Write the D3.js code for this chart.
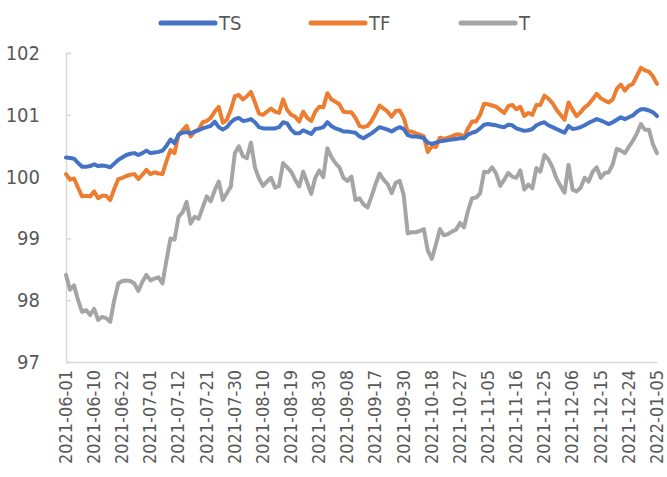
<!DOCTYPE html>
<html><head><meta charset="utf-8">
<script src="https://cdn.jsdelivr.net/npm/d3@7"></script>
<style>
html,body{margin:0;padding:0;background:#fff;}
svg{display:block;}
text{font-family:"DejaVu Sans Condensed","Liberation Sans Narrow",sans-serif;fill:#595959;}
</style></head>
<body>
<svg id="chart" width="667" height="477"></svg>
<script>
const dates = [
"2021-06-01","2021-06-02","2021-06-03","2021-06-04","2021-06-07","2021-06-08","2021-06-09","2021-06-10","2021-06-11","2021-06-15",
"2021-06-16","2021-06-17","2021-06-18","2021-06-21","2021-06-22","2021-06-23","2021-06-24","2021-06-25","2021-06-28","2021-06-29",
"2021-06-30","2021-07-01","2021-07-02","2021-07-05","2021-07-06","2021-07-07","2021-07-08","2021-07-09","2021-07-12","2021-07-13",
"2021-07-14","2021-07-15","2021-07-16","2021-07-19","2021-07-20","2021-07-21","2021-07-22","2021-07-23","2021-07-26","2021-07-27",
"2021-07-28","2021-07-29","2021-07-30","2021-08-02","2021-08-03","2021-08-04","2021-08-05","2021-08-06","2021-08-09","2021-08-10",
"2021-08-11","2021-08-12","2021-08-13","2021-08-16","2021-08-17","2021-08-18","2021-08-19","2021-08-20","2021-08-23","2021-08-24",
"2021-08-25","2021-08-26","2021-08-27","2021-08-30","2021-08-31","2021-09-01","2021-09-02","2021-09-03","2021-09-06","2021-09-07",
"2021-09-08","2021-09-09","2021-09-10","2021-09-13","2021-09-14","2021-09-15","2021-09-16","2021-09-17","2021-09-22","2021-09-23",
"2021-09-24","2021-09-27","2021-09-28","2021-09-29","2021-09-30","2021-10-08","2021-10-11","2021-10-12","2021-10-13","2021-10-14",
"2021-10-15","2021-10-18","2021-10-19","2021-10-20","2021-10-21","2021-10-22","2021-10-25","2021-10-26","2021-10-27","2021-10-28",
"2021-10-29","2021-11-01","2021-11-02","2021-11-03","2021-11-04","2021-11-05","2021-11-08","2021-11-09","2021-11-10","2021-11-11",
"2021-11-12","2021-11-15","2021-11-16","2021-11-17","2021-11-18","2021-11-19","2021-11-22","2021-11-23","2021-11-24","2021-11-25",
"2021-11-26","2021-11-29","2021-11-30","2021-12-01","2021-12-02","2021-12-03","2021-12-06","2021-12-07","2021-12-08","2021-12-09",
"2021-12-10","2021-12-13","2021-12-14","2021-12-15","2021-12-16","2021-12-17","2021-12-20","2021-12-21","2021-12-22","2021-12-23",
"2021-12-24","2021-12-27","2021-12-28","2021-12-29","2021-12-30","2021-12-31","2022-01-04","2022-01-05"
];
const tickDates = ["2021-06-01","2021-06-10","2021-06-22","2021-07-01","2021-07-12","2021-07-21","2021-07-30","2021-08-10","2021-08-19","2021-08-30","2021-09-08","2021-09-17","2021-09-30","2021-10-18","2021-10-27","2021-11-05","2021-11-16","2021-11-25","2021-12-06","2021-12-15","2021-12-24","2022-01-05"];
const yTicks = [97, 98, 99, 100, 101, 102];
const seriesNames = ["TS", "TF", "T"];

const TS = [
100.31,100.30,100.29,100.22,100.16,100.16,100.17,100.20,100.17,100.18,
100.17,100.15,100.21,100.27,100.31,100.35,100.37,100.38,100.35,100.38,
100.42,100.38,100.39,100.40,100.42,100.50,100.60,100.54,100.68,100.71,
100.72,100.70,100.73,100.75,100.78,100.80,100.82,100.89,100.80,100.76,
100.80,100.88,100.93,100.95,100.90,100.91,100.93,100.88,100.80,100.78,
100.78,100.78,100.78,100.80,100.88,100.86,100.76,100.70,100.70,100.75,
100.72,100.69,100.77,100.78,100.80,100.88,100.82,100.78,100.76,100.73,
100.73,100.72,100.71,100.65,100.62,100.66,100.70,100.75,100.80,100.78,
100.76,100.73,100.77,100.80,100.77,100.67,100.65,100.65,100.64,100.62,
100.55,100.53,100.55,100.57,100.58,100.59,100.60,100.61,100.62,100.62,
100.68,100.71,100.73,100.78,100.84,100.85,100.84,100.83,100.81,100.80,
100.84,100.83,100.78,100.76,100.74,100.75,100.77,100.83,100.86,100.88,
100.83,100.80,100.77,100.74,100.71,100.82,100.77,100.78,100.80,100.83,
100.87,100.90,100.93,100.91,100.88,100.85,100.88,100.92,100.96,100.93,
100.96,100.99,101.05,101.09,101.09,101.07,101.04,100.98
];
const TF = [
100.04,99.95,99.97,99.82,99.68,99.69,99.68,99.76,99.65,99.69,
99.69,99.62,99.80,99.96,99.98,100.01,100.03,100.04,99.96,100.03,
100.11,100.04,100.07,100.05,100.04,100.25,100.43,100.38,100.68,100.75,
100.82,100.65,100.73,100.76,100.88,100.90,100.95,101.05,101.13,100.87,
100.92,101.08,101.30,101.32,101.25,101.30,101.37,101.20,101.02,101.00,
101.05,101.10,101.05,101.03,101.25,101.08,101.00,100.97,100.89,101.05,
100.95,100.90,101.05,101.13,101.12,101.35,101.25,101.21,101.17,101.05,
101.04,101.04,100.95,100.82,100.80,100.82,100.90,101.02,101.15,101.10,
101.05,100.97,101.06,101.07,100.95,100.73,100.73,100.70,100.68,100.65,
100.40,100.49,100.48,100.63,100.61,100.63,100.65,100.68,100.68,100.64,
100.78,100.89,100.89,101.00,101.18,101.17,101.15,101.13,101.08,101.03,
101.14,101.16,101.09,101.13,100.98,101.03,101.00,101.16,101.16,101.31,
101.26,101.19,101.08,101.00,100.92,101.20,101.08,100.98,101.04,101.12,
101.17,101.25,101.34,101.27,101.23,101.20,101.25,101.42,101.49,101.39,
101.47,101.50,101.63,101.76,101.72,101.70,101.62,101.50
];
const T = [
98.41,98.17,98.24,98.00,97.81,97.84,97.76,97.86,97.68,97.73,
97.71,97.65,98.00,98.27,98.31,98.32,98.31,98.27,98.15,98.30,
98.41,98.32,98.35,98.37,98.27,98.65,99.00,98.98,99.35,99.42,
99.59,99.24,99.35,99.32,99.50,99.68,99.60,99.78,99.92,99.62,
99.73,99.84,100.38,100.49,100.33,100.30,100.55,100.15,99.97,99.85,
99.92,99.98,99.82,99.85,100.22,100.15,100.08,99.95,99.84,100.08,
99.90,99.72,99.98,100.10,99.99,100.46,100.32,100.22,100.15,99.98,
99.93,100.00,99.62,99.65,99.55,99.50,99.68,99.88,100.05,99.95,
99.88,99.73,99.90,99.93,99.70,99.08,99.10,99.10,99.12,99.15,
98.80,98.67,98.90,99.15,99.05,99.07,99.11,99.14,99.25,99.18,
99.45,99.65,99.66,99.73,100.08,100.07,100.15,100.05,99.85,99.95,
100.06,100.00,99.98,100.10,99.79,99.87,99.81,100.14,100.08,100.35,
100.28,100.15,99.97,99.85,99.74,100.19,99.79,99.76,99.82,99.98,
99.92,100.08,100.15,99.98,100.06,100.07,100.20,100.45,100.42,100.38,
100.48,100.58,100.70,100.85,100.76,100.76,100.52,100.38
];
const colors = ["#4472C4", "#ED7D31", "#A5A5A5"];

const svg = d3.select("#chart");
const mLeft = 66, mRight = 657, mTop = 53, mBottom = 362;
const x = d3.scalePoint().domain(dates).range([mLeft, mRight]);
const y = d3.scaleLinear().domain([97, 102]).range([mBottom, mTop]);

// y axis
const yAxis = svg.append("g").attr("transform", `translate(${mLeft},0)`)
  .call(d3.axisRight(y).tickValues(yTicks).tickSize(5).tickFormat(""));
yAxis.selectAll("line").attr("stroke", "#d9d9d9").attr("stroke-width", 1.5);
yAxis.select(".domain").attr("stroke", "#d9d9d9").attr("stroke-width", 1.5);
svg.append("g").selectAll("text").data(yTicks).join("text")
  .attr("x", 40).attr("y", d => y(d)).attr("dy", "0.35em")
  .attr("text-anchor", "end").attr("font-size", 20).text(d => d);

// x axis
const xAxis = svg.append("g").attr("transform", `translate(0,${mBottom})`)
  .call(d3.axisBottom(x).tickValues(tickDates).tickSize(0).tickPadding(0));
xAxis.select(".domain").attr("stroke", "#d9d9d9").attr("stroke-width", 1.5);
xAxis.selectAll("text")
  .attr("font-size", 18)
  .attr("transform", "translate(0,8) rotate(-90)")
  .attr("text-anchor", "end").attr("dy", "0.3em").attr("x", 0).attr("y", 0)
  .style("font-family", '"DejaVu Sans Condensed","Liberation Sans Narrow",sans-serif')
  .attr("fill", "#595959");

// lines
const data = [TS, TF, T];
const line = d3.line().x((d, i) => x(dates[i])).y(d => y(d));
[2, 1, 0].forEach(k => {
  svg.append("path").datum(data[k]).attr("d", line)
    .attr("fill", "none").attr("stroke", colors[k]).attr("stroke-width", 4)
    .attr("stroke-linejoin", "round").attr("stroke-linecap", "round");
});

// legend
const legX = [161, 311, 461];
const lg = svg.append("g");
seriesNames.forEach((n, k) => {
  lg.append("line").attr("x1", legX[k]).attr("x2", legX[k] + 54).attr("y1", 23).attr("y2", 23)
    .attr("stroke", colors[k]).attr("stroke-width", 5).attr("stroke-linecap", "round");
  lg.append("text").attr("x", legX[k] + 58).attr("y", 23).attr("dy", "0.35em")
    .attr("font-size", 20).text(n);
});
</script>
</body></html>
